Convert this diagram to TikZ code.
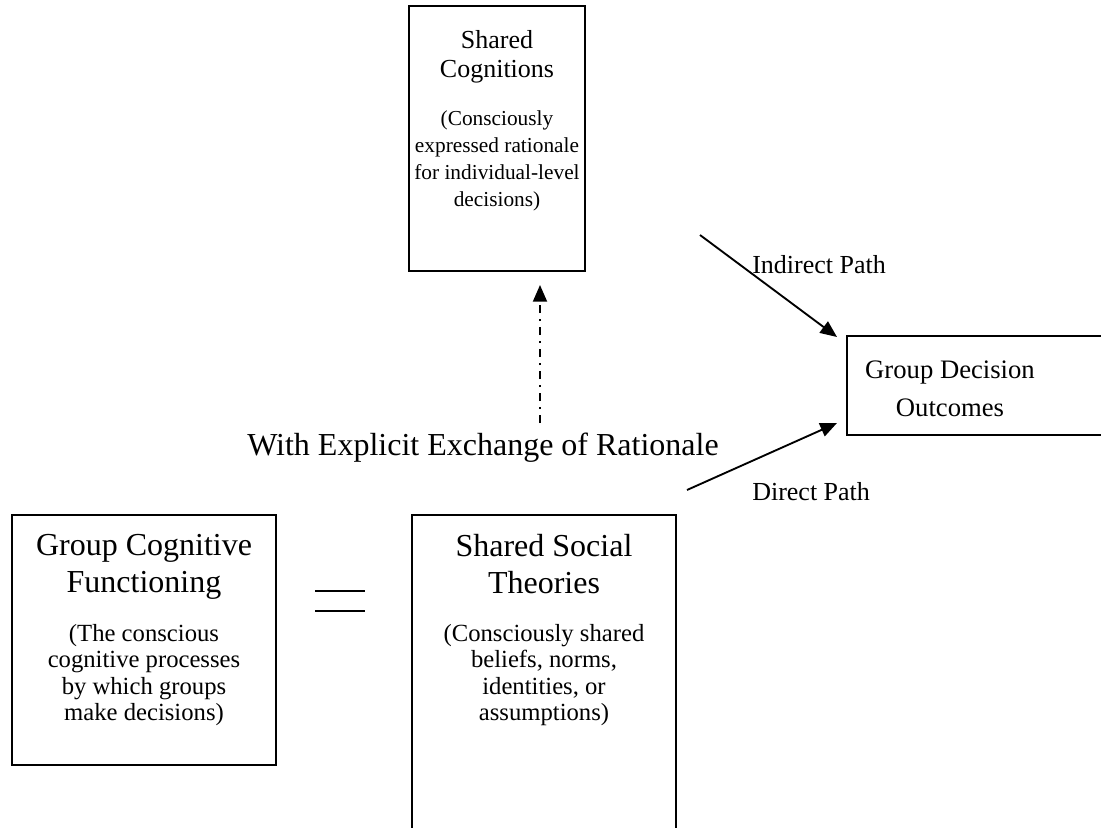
\documentclass[tikz,border=0pt]{standalone}
\usepackage{fontspec}
\setmainfont{Liberation Serif}
\usetikzlibrary{arrows.meta,calc}
\begin{document}
\begin{tikzpicture}[x=0.75pt,y=-0.75pt,
 box/.style={draw, line width=1.3pt, inner sep=0, outer sep=0, anchor=north west},
 ttl/.style={anchor=north, inner sep=0, align=center, font=\fontsize{19.5}{21.75}\selectfont},
 bigttl/.style={anchor=north, inner sep=0, align=center, font=\fontsize{24}{27.75}\selectfont},
 par/.style={anchor=north, inner sep=0, align=center, font=\fontsize{16}{20.25}\selectfont},
 bigpar/.style={anchor=north, inner sep=0, align=center, font=\fontsize{18.5}{19.9}\selectfont},
 lbl/.style={inner sep=0, anchor=west, font=\fontsize{19.5}{24}\selectfont},
 arr/.style={line width=1.4pt, -{Triangle[length=12.5pt,width=10.5pt]}},
 dashdot/.style={line width=1.4pt, dash pattern=on 6pt off 4.5pt on 1.5pt off 4.5pt, -{Triangle[length=12.5pt,width=10.5pt]}},
]
\useasboundingbox (0,0) rectangle (1101,828);
% boxes
\node[box, minimum width={176*0.75pt}, minimum height={265*0.75pt}] (sc) at (409,6) {};
\node[box, minimum width={270*0.75pt}, minimum height={99*0.75pt}] (gdo) at (847,336) {};
\node[box, minimum width={264*0.75pt}, minimum height={250*0.75pt}] (gcf) at (12,515) {};
\node[box, minimum width={264*0.75pt}, minimum height={316*0.75pt}] (sst) at (412,515) {};
% texts
\node[ttl] (sct) at (497,30) {Shared\\Cognitions};
\node[par] (scp) at (497,110) {(Consciously\\expressed rationale\\for individual-level\\decisions)};
\node[ttl, font=\fontsize{20}{28.5}\selectfont] (gdot) at (950,361) {Group Decision\\Outcomes};
\node[bigttl] (gcft) at (144,534) {Group Cognitive\\Functioning};
\node[bigpar] (gcfp) at (144,624) {(The conscious\\cognitive processes\\by which groups\\make decisions)};
\node[bigttl] (sstt) at (544,534) {Shared Social\\Theories};
\node[bigpar] (sstp) at (544,624) {(Consciously shared\\beliefs, norms,\\identities, or\\assumptions)};
\draw[line width=1.8pt] (315,591) -- (365,591) (315,611) -- (365,611);
% labels
\node[lbl] (ip) at (752,265) {Indirect Path};
\node[lbl] (dp) at (752,492) {Direct Path};
\node[lbl, anchor=center, font=\fontsize{24}{28}\selectfont] (we) at (483,448) {With Explicit Exchange of Rationale};
% connectors
\coordinate (indstart) at (700,235);
\coordinate (dirstart) at (687,490);
\coordinate (exstart) at (540,423);
\draw[arr] (indstart) -- ($(gdo.north west)+(-10,1)$);
\draw[arr] (dirstart) -- ($(gdo.south west)+(-10,-12)$);
\draw[dashdot] (exstart) -- ($(sc.south)+(43,14)$);
\end{tikzpicture}
\end{document}
